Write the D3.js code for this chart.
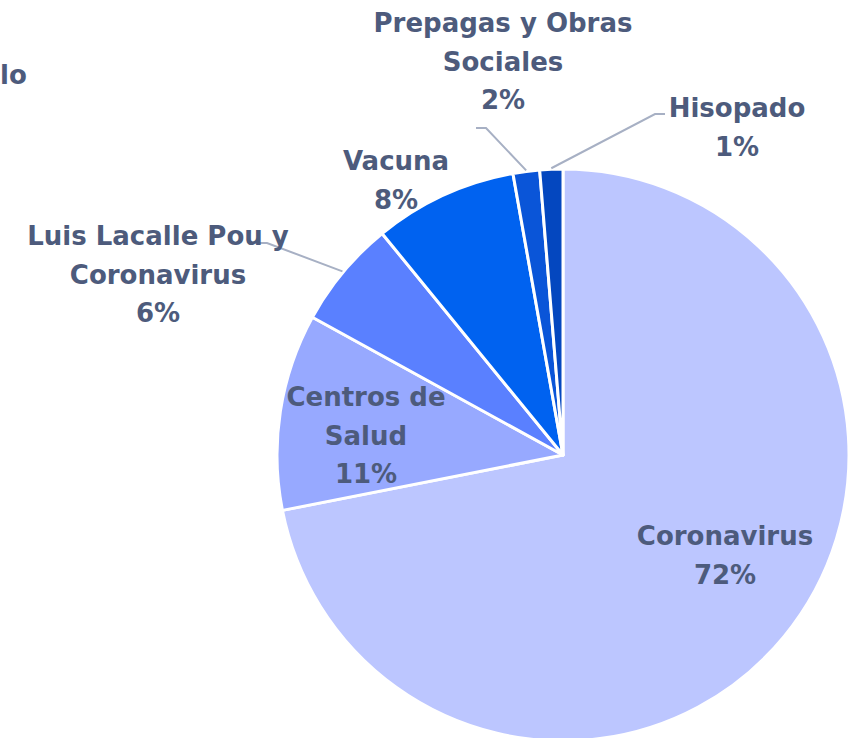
<!DOCTYPE html>
<html lang="es">
<head>
  <meta charset="UTF-8">
  <title>Temas</title>
  <script src="https://d3js.org/d3.v7.min.js"></script>
  <style>
    body { margin: 0; background: #fff; }
    text { font-family: "DejaVu Sans", sans-serif; font-weight: 700; fill: #4d5b7c; }
  </style>
</head>
<body>
  <div id="chart"></div>
  <script>
    // slices, clockwise from 12 o'clock
    var categories = ["Coronavirus", "Centros de Salud", "Luis Lacalle Pou y Coronavirus", "Vacuna", "Prepagas y Obras Sociales", "Hisopado"];
    var values = [71.9, 11.1, 6.1, 8.1, 1.5, 1.3];
    var colors = ["#bcc6ff", "#97a9ff", "#5a80ff", "#0062f0", "#0a55d8", "#0447bf"];
    // label lines as they are broken in the picture
    var labelLines = [
      ["Coronavirus"],
      ["Centros de", "Salud"],
      ["Luis Lacalle Pou y", "Coronavirus"],
      ["Vacuna"],
      ["Prepagas y Obras", "Sociales"],
      ["Hisopado"]
    ];

    var W = 859, H = 738;
    var cx = 563, cy = 455, R = 286;
    var lineH = 38.5;

    var svg = d3.select("#chart").append("svg").attr("width", W).attr("height", H);

    var data = categories.map(function (c, i) {
      return { name: c, value: values[i], color: colors[i], lines: labelLines[i] };
    });

    var pie = d3.pie().sort(null).value(function (d) { return d.value; });
    var arc = d3.arc().innerRadius(0).outerRadius(R);
    var arcs = pie(data);

    var g = svg.append("g").attr("transform", "translate(" + cx + "," + cy + ")");

    g.selectAll("path.slice")
      .data(arcs)
      .enter().append("path")
        .attr("class", "slice")
        .attr("d", arc)
        .attr("fill", function (d) { return d.data.color; })
        .attr("stroke", "#fff")
        .attr("stroke-width", 3)
        .attr("stroke-linejoin", "round");

    // label centre x and first-line baseline, relative to the pie centre
    var place = [
      { x: 725 - cx, y: 545 - cy },
      { x: 366 - cx, y: 406 - cy },
      { x: 158 - cx, y: 245 - cy, elbow: [[267 - cx, 243 - cy], [255 - cx, 243 - cy]] },
      { x: 396 - cx, y: 170 - cy },
      { x: 503 - cx, y: 32 - cy, elbow: [[486 - cx, 128 - cy], [476 - cx, 128 - cy]] },
      { x: 737 - cx, y: 117 - cy, elbow: [[655 - cx, 114 - cy], [665 - cx, 114 - cy]] }
    ];

    arcs.forEach(function (a, i) {
      var p = place[i];
      if (p.elbow) {
        var mid = (a.startAngle + a.endAngle) / 2;
        var s = [Math.sin(mid) * (R + 1), -Math.cos(mid) * (R + 1)];
        g.append("path")
          .attr("d", d3.line()([s, p.elbow[0], p.elbow[1]]))
          .attr("fill", "none")
          .attr("stroke", "#a7b0c4")
          .attr("stroke-width", 2);
      }
      var t = g.append("text").attr("text-anchor", "middle").style("font-size", "26px");
      var lines = a.data.lines.concat([Math.round(a.data.value) + "%"]);
      lines.forEach(function (l, k) {
        t.append("tspan").attr("x", p.x).attr("y", p.y + k * lineH).text(l);
      });
    });

    // text cut by the left edge in the original
    svg.append("text")
      .attr("x", 0).attr("y", 84)
      .style("font-size", "26px")
      .text("lo");
  </script>
</body>
</html>
